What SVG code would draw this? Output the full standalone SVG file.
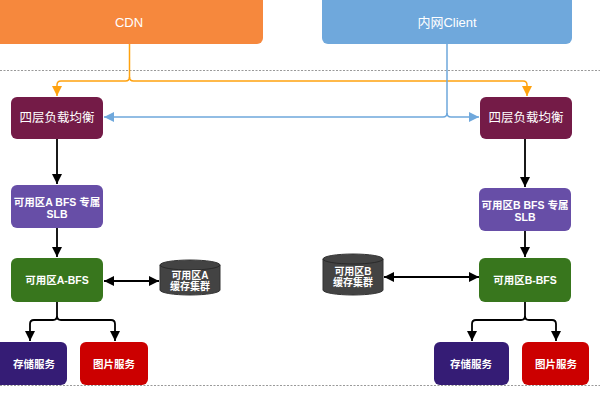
<svg xmlns="http://www.w3.org/2000/svg" width="600" height="400" viewBox="0 0 600 400">
<defs>
<marker id="ah-k" viewBox="0 0 10 10" refX="10" refY="5" markerWidth="10" markerHeight="10" markerUnits="userSpaceOnUse" orient="auto-start-reverse"><path d="M0,0 L10,5 L0,10 z" fill="#000"/></marker>
<marker id="ah-o" viewBox="0 0 10 10" refX="10" refY="5" markerWidth="10" markerHeight="10" markerUnits="userSpaceOnUse" orient="auto"><path d="M0,0 L10,5 L0,10 z" fill="#FFA20F"/></marker>
<marker id="ah-b" viewBox="0 0 10 10" refX="10" refY="5" markerWidth="10" markerHeight="10" markerUnits="userSpaceOnUse" orient="auto"><path d="M0,0 L10,5 L0,10 z" fill="#6FA8DC"/></marker>
</defs>
<style>
text{font-family:"Liberation Sans","Noto Sans CJK SC",sans-serif;fill:#fff;text-anchor:middle;dominant-baseline:central}
.b{font-weight:bold;font-size:10.5px}
.lb{font-size:12.5px}
.top{font-size:13px}
.k{fill:none;stroke:#000;stroke-width:1.8}
.sep{stroke:#999;stroke-width:1;stroke-dasharray:2 1.5}
</style>
<rect width="600" height="400" fill="#fff"/>
<line class="sep" x1="0" y1="70.5" x2="600" y2="70.5"/>
<line class="sep" x1="0" y1="385.5" x2="600" y2="385.5"/>

<g id="cdn"><rect x="-6" y="-6" width="269" height="50" rx="6" fill="#F6883D"/><text class="top" x="129" y="22">CDN</text></g>
<g id="client"><rect x="322" y="-6" width="250" height="50" rx="6" fill="#6FA8DC"/><text class="top" x="447" y="22">内网Client</text></g>

<g id="lb-a"><rect x="11" y="97" width="92" height="42" rx="6" fill="#741B47"/><text class="lb" x="57" y="118">四层负载均衡</text></g>
<g id="lb-b"><rect x="480" y="97" width="92" height="42" rx="6" fill="#741B47"/><text class="lb" x="526" y="118">四层负载均衡</text></g>

<g id="slb-a"><rect x="11" y="185" width="92" height="43" rx="6" fill="#674EA7"/><text class="b" x="57" y="202">可用区A BFS 专属</text><text class="b" x="57" y="214">SLB</text></g>
<g id="slb-b"><rect x="479" y="188" width="92" height="43" rx="6" fill="#674EA7"/><text class="b" x="525" y="205">可用区B BFS 专属</text><text class="b" x="525" y="217">SLB</text></g>

<g id="bfs-a"><rect x="11" y="258" width="92" height="44" rx="6" fill="#38761D"/><text class="b" x="57" y="280">可用区A-BFS</text></g>
<g id="bfs-b"><rect x="479" y="258" width="92" height="44" rx="6" fill="#38761D"/><text class="b" x="525" y="280">可用区B-BFS</text></g>

<g id="cache-a"><path d="M160,265 a30,5 0 0 1 60,0 v25 a30,5 0 0 1 -60,0 z" fill="#434343" stroke="#333"/><path d="M160,265 a30,5 0 0 0 60,0" fill="none" stroke="#2a2a2a"/><text class="b" x="190" y="275" style="font-size:10px">可用区A</text><text class="b" x="190" y="286" style="font-size:10px">缓存集群</text></g>
<g id="cache-b"><path d="M323,259 a30,5 0 0 1 60,0 v31 a30,5 0 0 1 -60,0 z" fill="#434343" stroke="#333"/><path d="M323,259 a30,5 0 0 0 60,0" fill="none" stroke="#2a2a2a"/><text class="b" x="353" y="271" style="font-size:10px">可用区B</text><text class="b" x="353" y="282" style="font-size:10px">缓存集群</text></g>

<g id="store-a"><rect x="-6" y="342" width="73" height="43" rx="6" fill="#351C75"/><text class="b" x="34" y="364">存储服务</text></g>
<g id="img-a"><rect x="80" y="342" width="68" height="43" rx="6" fill="#CC0000"/><text class="b" x="114" y="364">图片服务</text></g>
<g id="store-b"><rect x="434" y="342" width="75" height="43" rx="6" fill="#351C75"/><text class="b" x="471" y="364">存储服务</text></g>
<g id="img-b"><rect x="522" y="342" width="67" height="43" rx="6" fill="#CC0000"/><text class="b" x="556" y="364">图片服务</text></g>

<g id="connectors">
<path d="M129.5,44 V77 Q129.5,81 125.5,81 H61 Q57,81 57,85 V96" fill="none" stroke="#FFA20F" stroke-width="1.5" marker-end="url(#ah-o)"/>
<path d="M129.5,77 Q129.5,81 133.5,81 H523 Q527,81 527,85 V96" fill="none" stroke="#FFA20F" stroke-width="1.5" marker-end="url(#ah-o)"/>
<path d="M447,44 V113 Q447,117 443,117 H104" fill="none" stroke="#6FA8DC" stroke-width="1.5" marker-end="url(#ah-b)"/>
<path d="M447,113 Q447,117 451,117 H479" fill="none" stroke="#6FA8DC" stroke-width="1.5" marker-end="url(#ah-b)"/>
<path class="k" d="M57,139 V184" marker-end="url(#ah-k)"/>
<path class="k" d="M525,139 V187" marker-end="url(#ah-k)"/>
<path class="k" d="M57,228 V257" marker-end="url(#ah-k)"/>
<path class="k" d="M525,231 V257" marker-end="url(#ah-k)"/>
<path class="k" d="M104,281 H159" marker-start="url(#ah-k)" marker-end="url(#ah-k)"/>
<path class="k" d="M384,277 H479" marker-start="url(#ah-k)" marker-end="url(#ah-k)"/>
<path class="k" d="M57,302 V316 Q57,320 53,320 H34 Q30,320 30,324 V341" marker-end="url(#ah-k)"/>
<path class="k" d="M57,316 Q57,320 61,320 H111 Q115,320 115,324 V341" marker-end="url(#ah-k)"/>
<path class="k" d="M525,302 V316 Q525,320 521,320 H476 Q472,320 472,324 V341" marker-end="url(#ah-k)"/>
<path class="k" d="M525,316 Q525,320 529,320 H552 Q556,320 556,324 V341" marker-end="url(#ah-k)"/>
</g>
</svg>
